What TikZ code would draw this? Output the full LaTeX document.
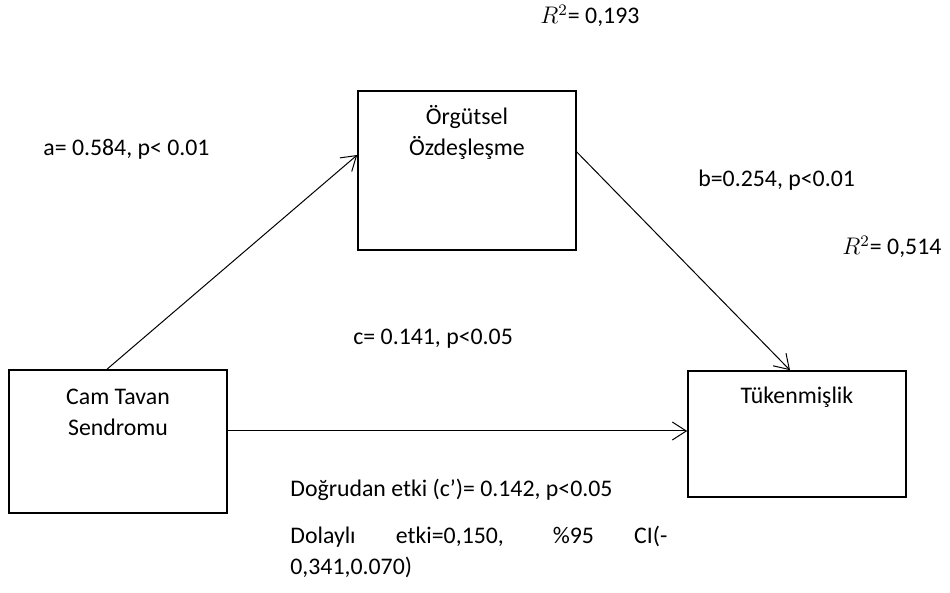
\documentclass[tikz,border=0pt]{standalone}
\usepackage{fontspec}
\setmainfont{Carlito}
\usetikzlibrary{arrows.meta}

\begin{document}
\begin{tikzpicture}[x=0.5pt, y=-0.5pt,
    font=\fontsize{11.9pt}{15.5pt}\selectfont,
    kutu/.style={draw, line width=0.8pt, minimum width=109pt, inner sep=0pt},
    ok/.style={-{Straight Barb[length=7pt,width=9pt]}, line width=0.5pt},
    yazi/.style={anchor=base west, inner sep=0pt}]
    \useasboundingbox (0,0) rectangle (950,593);
    \node[kutu, minimum height=71.5pt] (cts) at (118,441.5) {};
    \node[kutu, minimum height=79.5pt] (oz) at (467,170.5) {};
    \node[kutu, minimum height=63pt] (tuk) at (797,434) {};
    \node[align=center, anchor=base, inner sep=0pt] (ctsyazi) at (118,435.5) {Cam Tavan\\Sendromu};
    \node[align=center, anchor=base, inner sep=0pt] (ozyazi) at (467,155.5) {Örgütsel\\Özdeşleşme};
    \node[anchor=base, inner sep=0pt] (tukyazi) at (797,403.5) {Tükenmişlik};
    \draw[ok] ([xshift=-5.5pt]cts.north) -- ([yshift=7.75pt]oz.west);
    \draw[ok] ([yshift=9.25pt]oz.east) -- ([xshift=-3.5pt]tuk.north);
    \draw[ok] ([yshift=5.25pt]cts.east) -- ([yshift=1.5pt]tuk.west);
    \node[yazi] (r1) at (540,24) {$R^2$= 0,193};
    \node[yazi] (a) at (43,156) {a= 0.584, p< 0.01};
    \node[yazi] (b) at (698,187) {b=0.254, p<0.01};
    \node[yazi] (r2) at (842,255) {$R^2$= 0,514};
    \node[yazi] (c) at (353,345) {c= 0.141, p<0.05};
    \node[yazi] (dog) at (290,497) {Doğrudan etki (c’)= 0.142, p<0.05};
    \node[yazi, align=left] (dol) at (290,575) {\makebox[188.5pt][s]{Dolaylı etki=0,150, \%95 CI(-}\\0,341,0.070)};
\end{tikzpicture}
\end{document}
